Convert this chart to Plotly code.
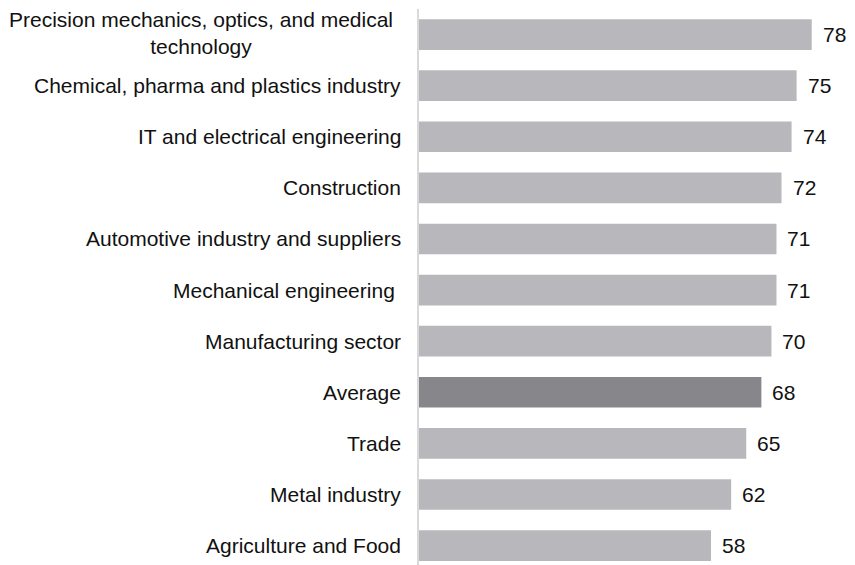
import plotly.graph_objects as go

# ----------------------------
# Data (top to bottom as shown)
# ----------------------------
categories = [
    "Precision mechanics, optics, and medical<br>technology",
    "Chemical, pharma and plastics industry",
    "IT and electrical engineering",
    "Construction",
    "Automotive industry and suppliers",
    "Mechanical engineering ",
    "Manufacturing sector",
    "Average",
    "Trade",
    "Metal industry",
    "Agriculture and Food",
]
values = [78, 75, 74, 72, 71, 71, 70, 68, 65, 62, 58]

bar_color = "#b8b8bc"
avg_color = "#87868b"
colors = [avg_color if c == "Average" else bar_color for c in categories]

FONT = "Liberation Sans, Arial, sans-serif"

fig = go.Figure(
    go.Bar(
        x=values,
        y=categories,
        orientation="h",
        marker=dict(color=colors, line=dict(width=0)),
        width=0.6,
        hoverinfo="x+y",
    )
)

# value labels to the right of the bars
for c, v in zip(categories, values):
    fig.add_annotation(
        x=v, y=c, xref="x", yref="y",
        text=str(v), showarrow=False,
        xanchor="left", xshift=9,
        font=dict(family=FONT, size=21, color="#111111"),
    )

# category labels, centred for multi-line entries (wrapped box sits a bit further left)
for c in categories:
    fig.add_annotation(
        x=0, y=c, xref="x", yref="y",
        text=c, showarrow=False,
        xanchor="right", align="center",
        xshift=-24 if "<br>" in c else -16,
        yshift=2 if "<br>" in c else 0,
        font=dict(family=FONT, size=21, color="#111111"),
    )

fig.update_layout(
    width=847,
    height=557,
    margin=dict(l=411, r=3, t=1, b=0),
    plot_bgcolor="white",
    paper_bgcolor="white",
    showlegend=False,
    font=dict(family=FONT, size=21, color="#111111"),
)

fig.update_xaxes(
    range=[0, 86],
    showgrid=False,
    zeroline=False,
    showticklabels=False,
    ticks="",
)

fig.update_yaxes(
    range=[10.38, -0.5],
    showticklabels=False,
    showgrid=False,
    ticks="",
    showline=True,
    linecolor="#d9d9d9",
    linewidth=2,
)

fig.write_html("out.html")
